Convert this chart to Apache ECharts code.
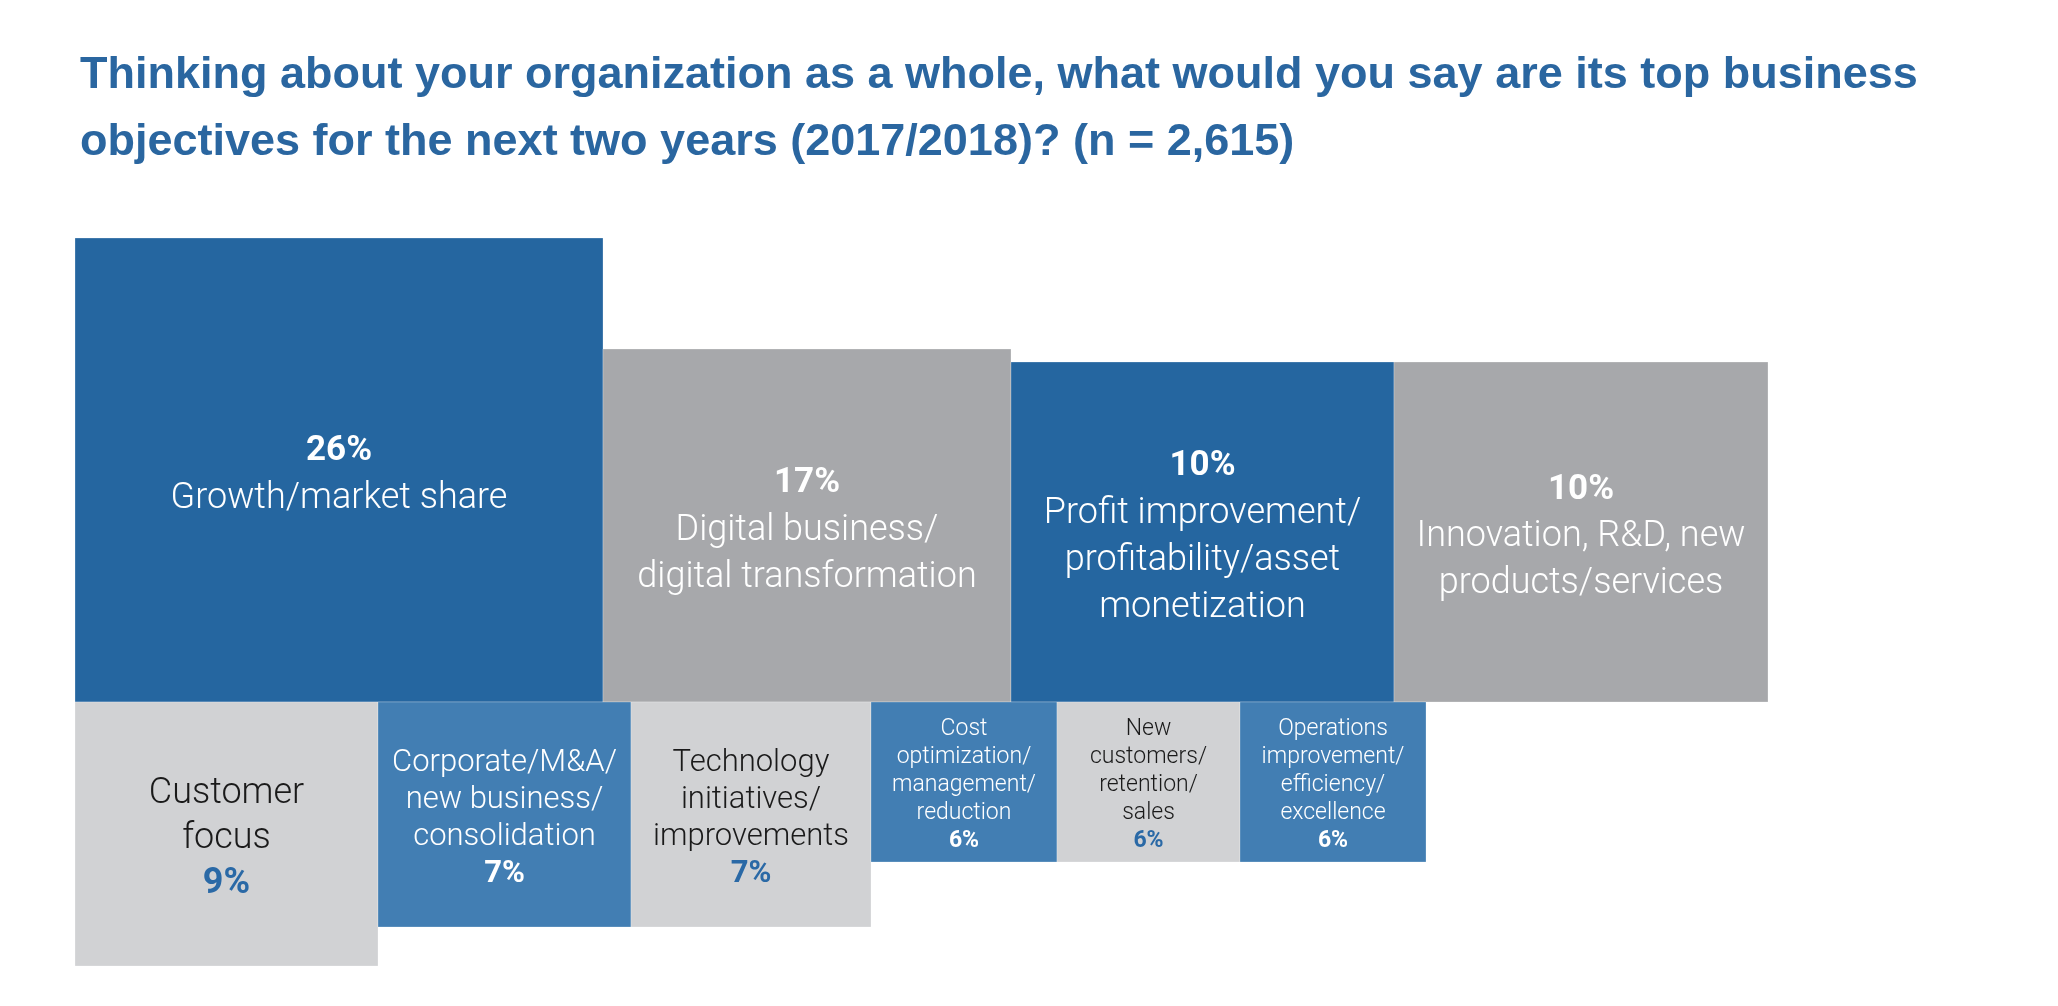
<!DOCTYPE html>
<html>
<head>
<meta charset="utf-8">
<script src="https://cdn.jsdelivr.net/npm/echarts@6/dist/echarts.min.js"></script>
<style>
html,body{margin:0;padding:0;background:#fff;}
#chart{width:2058px;height:1006px;}
</style>
</head>
<body>
<div id="chart"></div>
<script>
// ---- data ----
const titleText = 'Thinking about your organization as a whole, what would you say are its top business\nobjectives for the next two years (2017/2018)? (n = 2,615)';
const labels = [
  'Growth/market share',
  'Digital business/\ndigital transformation',
  'Profit improvement/\nprofitability/asset\nmonetization',
  'Innovation, R&D, new\nproducts/services',
  'Customer\nfocus',
  'Corporate/M&A/\nnew business/\nconsolidation',
  'Technology\ninitiatives/\nimprovements',
  'Cost\noptimization/\nmanagement/\nreduction',
  'New\ncustomers/\nretention/\nsales',
  'Operations\nimprovement/\nefficiency/\nexcellence'
];
const shares = [26, 17, 10, 10, 9, 7, 7, 6, 6, 6];
const tier = ['top', 'top', 'top', 'top', 'bottom', 'bottom', 'bottom', 'bottom', 'bottom', 'bottom'];
// tile extents (axis units)
const tileWidth = [52.8, 40.8, 38.3, 37.4, 30.3, 25.3, 24.0, 18.6, 18.3, 18.6];
const tileHeight = [46.4, 35.3, 34.0, 34.0, 26.4, 22.5, 22.5, 16.0, 16.0, 16.0];

// ---- styles ----
const DARK = '#2566a0', GRAY = '#a7a8ab', LIGHT = '#d1d2d4', MID = '#427eb3';
const fills = [DARK, GRAY, DARK, GRAY, LIGHT, MID, LIGHT, MID, LIGHT, MID];
const textStyles = [
  {fs: 36, pfs: 35, lh: 48}, {fs: 36, pfs: 35, lh: 47}, {fs: 36, pfs: 35, lh: 47}, {fs: 36, pfs: 35, lh: 47},
  {fs: 36, pfs: 36, lh: 45}, {fs: 31, pfs: 31, lh: 37}, {fs: 31, pfs: 31, lh: 37},
  {fs: 23, pfs: 23, lh: 28}, {fs: 23, pfs: 23, lh: 28}, {fs: 23, pfs: 23, lh: 28}
];
const FONT = 'Roboto, "Liberation Sans", sans-serif';

// stacked offsets per tier computed from widths
const offsets = [];
const run = {top: 0, bottom: 0};
for (let i = 0; i < shares.length; i++) {
  offsets.push(run[tier[i]]);
  run[tier[i]] += tileWidth[i];
}
const seriesData = shares.map((v, i) => [offsets[i], offsets[i] + tileWidth[i],
  tier[i] === 'top' ? 0 : -tileHeight[i], tier[i] === 'top' ? tileHeight[i] : 0, v, i]);

const chart = echarts.init(document.getElementById('chart'));
chart.setOption({
  backgroundColor: '#fff',
  animation: false,
  title: {
    text: titleText,
    left: 75,
    top: 37,
    textStyle: {fontFamily: '"Liberation Sans", Arial, sans-serif', fontSize: 45, fontWeight: 'bold', color: '#2a66a0', lineHeight: 67}
  },
  grid: {left: 75, right: 483, top: 202, bottom: 4},
  xAxis: {type: 'value', min: 0, max: 150, show: false},
  yAxis: {type: 'value', min: -30, max: 50, show: false},
  series: [{
    type: 'custom',
    data: seriesData,
    renderItem: function (params, api) {
      const i = api.value(5);
      const p0 = api.coord([api.value(0), api.value(3)]);
      const p1 = api.coord([api.value(1), api.value(2)]);
      const fill = fills[i];
      const isLight = fill === LIGHT;
      const ts = textStyles[i];
      const pctColor = isLight ? '#2a69a6' : '#ffffff';
      const lblColor = isLight ? '#1a1a1a' : '#ffffff';
      const lines = labels[i].split('\n').map(s => '{l|' + s + '}');
      const pct = '{p|' + api.value(4) + '%}';
      const text = tier[i] === 'top' ? [pct].concat(lines).join('\n') : lines.concat([pct]).join('\n');
      return {
        type: 'rect',
        shape: {x: p0[0], y: p0[1], width: p1[0] - p0[0], height: p1[1] - p0[1]},
        style: {fill: fill, stroke: 'rgba(255,255,255,0.25)', lineWidth: 1},
        textContent: {
          style: {
            text: text,
            align: 'center',
            verticalAlign: 'middle',
            fill: lblColor,
            rich: {
              p: {fontFamily: FONT, fontSize: ts.pfs, fontWeight: 'bold', fill: pctColor, lineHeight: ts.lh, align: 'center'},
              l: {fontFamily: FONT, fontSize: ts.fs, fontWeight: 300, fill: lblColor, lineHeight: ts.lh, align: 'center'}
            }
          }
        },
        textConfig: {position: 'inside', offset: [0, Math.round(ts.fs * 0.14)], insideFill: lblColor, insideStroke: 'transparent'}
      };
    }
  }]
});
</script>
</body>
</html>
